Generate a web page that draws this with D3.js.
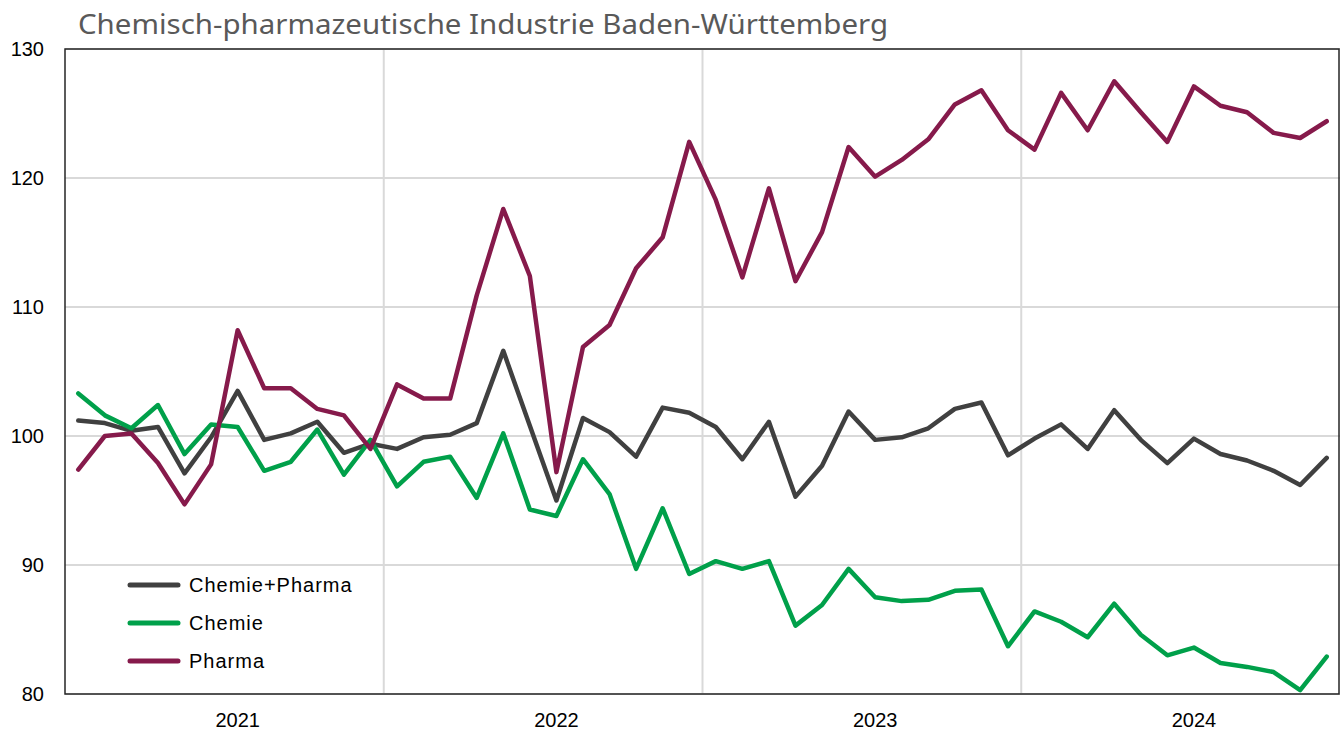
<!DOCTYPE html>
<html>
<head>
<meta charset="utf-8">
<script src="https://cdn.jsdelivr.net/npm/d3@7"></script>
<style>
  body { margin: 0; background: #fff; }
  svg { display: block; font-family: "Liberation Sans", Arial, sans-serif; }
</style>
</head>
<body>
<svg id="chart" width="1341" height="733"></svg>
<script>
// Data (monthly index, Jan 2021 - Dec 2024)
const years = [2021, 2022, 2023, 2024];
const yTicks = [80, 90, 100, 110, 120, 130];

const chemiePharma = [
  101.2, 101.0, 100.4, 100.7, 97.1, 99.9, 103.5, 99.7, 100.2, 101.1, 98.7, 99.4,
  99.0, 99.9, 100.1, 101.0, 106.6, 100.8, 95.0, 101.4, 100.3, 98.4, 102.2, 101.8,
  100.7, 98.2, 101.1, 95.3, 97.7, 101.9, 99.7, 99.9, 100.6, 102.1, 102.6, 98.5,
  99.8, 100.9, 99.0, 102.0, 99.7, 97.9, 99.8, 98.6, 98.1, 97.3, 96.2, 98.3
];
const chemie = [
  103.3, 101.6, 100.6, 102.4, 98.6, 100.9, 100.7, 97.3, 98.0, 100.5, 97.0, 99.7,
  96.1, 98.0, 98.4, 95.2, 100.2, 94.3, 93.8, 98.2, 95.5, 89.7, 94.4, 89.3,
  90.3, 89.7, 90.3, 85.3, 86.9, 89.7, 87.5, 87.2, 87.3, 88.0, 88.1, 83.7,
  86.4, 85.6, 84.4, 87.0, 84.6, 83.0, 83.6, 82.4, 82.1, 81.7, 80.3, 82.9
];
const pharma = [
  97.4, 100.0, 100.2, 97.9, 94.7, 97.8, 108.2, 103.7, 103.7, 102.1, 101.6, 99.0,
  104.0, 102.9, 102.9, 110.9, 117.6, 112.4, 97.2, 106.9, 108.6, 113.0, 115.4, 122.8,
  118.3, 112.3, 119.2, 112.0, 115.8, 122.4, 120.1, 121.4, 123.0, 125.7, 126.8, 123.7,
  122.2, 126.6, 123.7, 127.5, 125.1, 122.8, 127.1, 125.6, 125.1, 123.5, 123.1, 124.4
];

const seriesNames = ["Chemie+Pharma", "Chemie", "Pharma"];
const seriesColors = ["#404040", "#00a04a", "#861a4b"];
const seriesData = [chemiePharma, chemie, pharma];

// Layout
const svg = d3.select("#chart");
const margin = { left: 65, right: 1, top: 49, bottom: 39 };
const width = 1341, height = 733;
const plotW = width - margin.left - margin.right;
const plotH = height - margin.top - margin.bottom;
const nMonths = chemie.length;

const x = d3.scaleLinear().domain([0, nMonths]).range([margin.left, margin.left + plotW]);
const y = d3.scaleLinear().domain([80, 130]).range([margin.top + plotH, margin.top]);

// Title
svg.append("text")
  .attr("x", 78)
  .attr("y", 34)
  .attr("textLength", 810)
  .attr("lengthAdjust", "spacingAndGlyphs")
  .style("font-family", "'Noto Sans', 'Open Sans', sans-serif")
  .style("font-size", "28px")
  .style("fill", "#595959")
  .text("Chemisch-pharmazeutische Industrie Baden-Württemberg");

// Horizontal gridlines
svg.append("g")
  .selectAll("line")
  .data(yTicks)
  .enter().append("line")
  .attr("x1", margin.left).attr("x2", margin.left + plotW)
  .attr("y1", d => y(d)).attr("y2", d => y(d))
  .style("stroke", "#d9d9d9")
  .style("stroke-width", 2);

// Vertical gridlines at year boundaries
svg.append("g")
  .selectAll("line")
  .data(years.slice(1))
  .enter().append("line")
  .attr("x1", (d, i) => x((i + 1) * 12)).attr("x2", (d, i) => x((i + 1) * 12))
  .attr("y1", margin.top).attr("y2", margin.top + plotH)
  .style("stroke", "#d9d9d9")
  .style("stroke-width", 2);

// Y axis labels
const yAxis = d3.axisLeft(y).tickValues(yTicks).tickSize(0).tickPadding(21);
const yg = svg.append("g")
  .attr("transform", `translate(${margin.left},0)`)
  .call(yAxis);
yg.select(".domain").remove();
yg.selectAll("text")
  .style("font-family", "'Liberation Sans', Arial, sans-serif")
  .style("font-size", "20px")
  .style("fill", "#000");

// X axis labels (placed under the July point of each year)
const xg = svg.append("g");
xg.selectAll("text")
  .data(years)
  .enter().append("text")
  .attr("x", (d, i) => x(i * 12 + 6.5))
  .attr("y", 727)
  .attr("text-anchor", "middle")
  .style("font-size", "20px")
  .style("fill", "#000")
  .text(d => d);

// Lines
const line = d3.line()
  .x((d, i) => x(i + 0.5))
  .y(d => y(d));

svg.append("g")
  .selectAll("path")
  .data(seriesData)
  .enter().append("path")
  .attr("d", line)
  .style("fill", "none")
  .style("stroke", (d, i) => seriesColors[i])
  .style("stroke-width", 4.5)
  .style("stroke-linejoin", "round")
  .style("stroke-linecap", "round");

// Plot frame
svg.append("rect")
  .attr("x", margin.left)
  .attr("y", margin.top)
  .attr("width", plotW - 1)
  .attr("height", plotH)
  .style("fill", "none")
  .style("stroke", "#262626")
  .style("stroke-width", 1.5);

// Legend
const legend = svg.append("g").attr("transform", "translate(130,585)");
const item = legend.selectAll("g")
  .data(seriesNames)
  .enter().append("g")
  .attr("transform", (d, i) => `translate(0,${i * 38})`);
item.append("line")
  .attr("x1", 0).attr("x2", 48)
  .style("stroke", (d, i) => seriesColors[i])
  .style("stroke-width", 5)
  .style("stroke-linecap", "round");
item.append("text")
  .attr("x", 59)
  .attr("dy", "0.36em")
  .style("font-size", "20px")
  .style("letter-spacing", "1px")
  .style("fill", "#000")
  .text(d => d);
</script>
</body>
</html>
